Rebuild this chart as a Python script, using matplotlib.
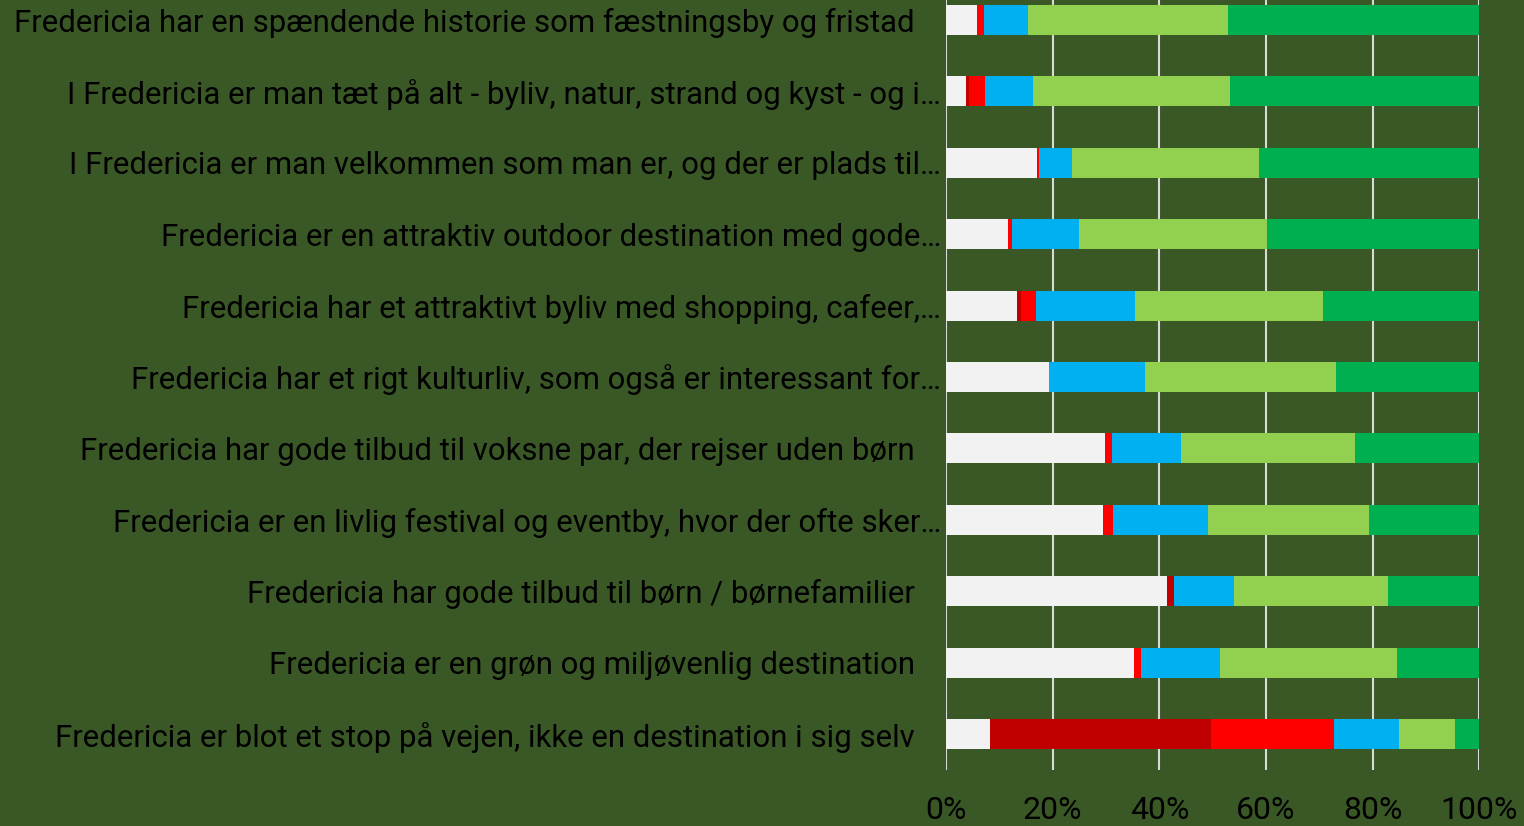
import numpy as np
import matplotlib
matplotlib.use("Agg")
import matplotlib.pyplot as plt

# Statements, top to bottom
statements = [
    "Fredericia har en spændende historie som fæstningsby og fristad",
    "I Fredericia er man tæt på alt - byliv, natur, strand og kyst - og i…",
    "I Fredericia er man velkommen som man er, og der er plads til…",
    "Fredericia er en attraktiv outdoor destination med gode…",
    "Fredericia har et attraktivt byliv med shopping, cafeer,…",
    "Fredericia har et rigt kulturliv, som også er interessant for…",
    "Fredericia har gode tilbud til voksne par, der rejser uden børn",
    "Fredericia er en livlig festival og eventby, hvor der ofte sker…",
    "Fredericia har gode tilbud til børn / børnefamilier",
    "Fredericia er en grøn og miljøvenlig destination",
    "Fredericia er blot et stop på vejen, ikke en destination i sig selv",
]
truncated = [s.endswith("…") for s in statements]

# Answer shares in percent
dont_know = [5.9, 3.8, 17.0, 11.7, 13.3, 19.3, 29.9, 29.4, 41.4, 35.3, 8.3]
strongly_disagree = [0.0, 0.6, 0.0, 0.0, 0.8, 0.0, 0.0, 0.0, 1.3, 0.0, 41.3]
disagree = [1.2, 2.9, 0.4, 0.6, 2.7, 0.0, 1.2, 2.0, 0.0, 1.3, 23.1]
neutral = [8.3, 9.1, 6.2, 12.7, 18.6, 18.1, 13.0, 17.8, 11.3, 14.8, 12.2]
agree = [37.5, 36.9, 35.1, 35.1, 35.2, 35.8, 32.6, 30.1, 28.8, 33.1, 10.5]
strongly_agree = [47.1, 46.8, 41.3, 39.9, 29.5, 26.9, 23.3, 20.7, 17.1, 15.5, 4.6]

series = [dont_know, strongly_disagree, disagree, neutral, agree, strongly_agree]
colors = ["#F2F2F2", "#C00000", "#FF0000", "#00B0F0", "#92D050", "#00B050"]
ticks = [0, 20, 40, 60, 80, 100]
tick_labels = ["0%", "20%", "40%", "60%", "80%", "100%"]

bg = "#3A5726"
plt.rcParams["font.family"] = ["Roboto", "DejaVu Sans"]

fig = plt.figure(figsize=(15.24, 8.26), dpi=100, facecolor=bg)
ax = fig.add_axes([946 / 1524, 56 / 826, 533.3 / 1524, 786 / 826])
ax.set_facecolor(bg)

y = np.arange(len(statements))
left = np.zeros(len(statements))
for vals, col in zip(series, colors):
    vals = np.array(vals)
    ax.barh(y, vals, left=left, height=0.42, color=col, linewidth=0, zorder=3)
    left += vals

ax.set_xlim(0, 100)
ax.set_ylim(len(statements) - 0.5, -0.5)
ax.set_xticks(ticks)
ax.set_xticklabels(tick_labels, fontsize=23, color="black")
ax.tick_params(axis="x", length=0, pad=19)
ax.set_yticks([])
ax.grid(axis="x", color="#D9D9D9", linewidth=1.5, zorder=1)
for sp in ax.spines.values():
    sp.set_visible(False)

# category labels, the cut-off ones sit closer to the axis
for i, (txt, cut) in enumerate(zip(statements, truncated)):
    pad = 5 if cut else 31
    ax.annotate(txt, xy=(0, i), xycoords=("axes fraction", "data"),
                xytext=(-pad, 0), textcoords="offset pixels",
                ha="right", va="center_baseline", fontsize=22.4, color="black")

fig.savefig("out.png", dpi=100, facecolor=bg)
